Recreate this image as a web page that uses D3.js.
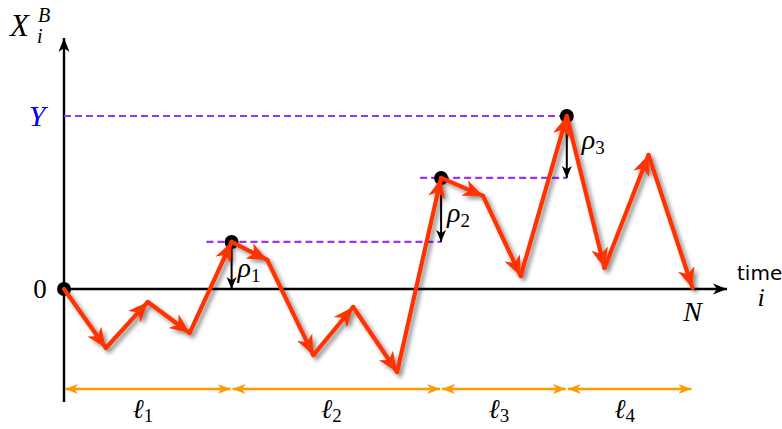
<!DOCTYPE html>
<html><head><meta charset="utf-8">
<script src="https://cdn.jsdelivr.net/npm/d3@7"></script>
<style>html,body{margin:0;padding:0;background:#fff;}svg{display:block;}
.serif{font-family:"Times New Roman","Liberation Serif","DejaVu Serif",Times,serif;}
</style>
</head><body>
<svg id="chart" width="782" height="429"></svg>
<script>
// ---- data ----
const times = [0, 1, 2, 3, 4, 4.85, 5.95, 6.9, 7.95, 9, 10, 10.9, 12, 12.9, 13.95, 15];
const values = [0, -3.41, -0.75, -2.54, 2.72, 1.68, -3.82, -1.04, -4.8, 6.42, 5.38, 0.75, 10, 1.21, 7.75, 0.06];
const recordIdx = [0, 4, 9, 12];          // record points (black dots)
const dashStarts = [3.4, 8.5, 0];         // start time of the dashed level lines for records 1..3
const rhoLabels = ["1", "2", "3"];
const ellLabels = ["1", "2", "3", "4"];
const segBounds = [0, 4, 9, 12, 15];      // boundaries of ℓ segments
const levelY = 10;                        // Y level
const N = 15;

// ---- scales ----
const svg = d3.select("#chart");
const x = d3.scaleLinear().domain([0, N]).range([64, 692.5]);
const y = d3.scaleLinear().domain([0, levelY]).range([289, 116]);

const defs = svg.append("defs");
const f = defs.append("filter").attr("id", "shadow").attr("x", "-20%").attr("y", "-20%").attr("width", "140%").attr("height", "140%");
f.append("feDropShadow").attr("dx", 3).attr("dy", 3).attr("stdDeviation", 2)
  .attr("flood-color", "#000").attr("flood-opacity", 0.45);

function marker(id, color, len, w) {
  defs.append("marker").attr("id", id).attr("markerUnits", "userSpaceOnUse")
    .attr("viewBox", `${-len} ${-w} ${len + 2} ${2 * w}`)
    .attr("markerWidth", len + 2).attr("markerHeight", 2 * w)
    .attr("refX", 0).attr("refY", 0).attr("orient", "auto-start-reverse")
    .append("path").attr("d", `M0,0 L${-len},${-w / 2} L${-len * 0.72},0 L${-len},${w / 2} Z`)
    .attr("fill", color);
}
marker("redHead", "#ff3300", 20, 17);
marker("blackHead", "#000", 12, 10);
marker("orangeHead", "#ff9900", 13, 10);
marker("axisHead", "#000", 14, 11);

// ---- axes ----
svg.append("line").attr("x1", x(0)).attr("x2", x(0)).attr("y1", 402).attr("y2", 38)
  .attr("stroke", "#000").attr("stroke-width", 2.4).attr("marker-end", "url(#axisHead)");
svg.append("line").attr("x1", x(0)).attr("x2", 727).attr("y1", y(0)).attr("y2", y(0))
  .attr("stroke", "#000").attr("stroke-width", 2.4).attr("marker-end", "url(#axisHead)");

// ---- dashed level lines ----
const recs = recordIdx.slice(1);
svg.selectAll(".lvl").data(recs).join("line").attr("class", "lvl")
  .attr("x1", (d, i) => x(dashStarts[i]))
  .attr("x2", (d, i) => x(i < recs.length - 1 ? times[recs[i + 1]] : times[d]))
  .attr("y1", d => y(values[d])).attr("y2", d => y(values[d]))
  .attr("stroke", "#9933ff").attr("stroke-width", 2.2).attr("stroke-dasharray", "7,4");
svg.append("line").attr("x1", x(0)).attr("x2", x(times[recordIdx[3]]))
  .attr("y1", y(levelY)).attr("y2", y(levelY))
  .attr("stroke", "#9933ff").attr("stroke-width", 2.2).attr("stroke-dasharray", "7,4");

// ---- black dots ----
svg.selectAll(".dot").data(recordIdx).join("circle").attr("class", "dot")
  .attr("cx", d => x(times[d])).attr("cy", d => y(values[d])).attr("r", 7).attr("fill", "#000");

// ---- rho arrows ----
recs.forEach((d, i) => {
  const prev = i === 0 ? 0 : values[recs[i - 1]];
  svg.append("line").attr("x1", x(times[d])).attr("x2", x(times[d]))
    .attr("y1", y(values[d]) + 6).attr("y2", y(prev))
    .attr("stroke", "#000").attr("stroke-width", 2).attr("marker-end", "url(#blackHead)");
  const t = svg.append("text").attr("class", "serif").attr("x", x(times[d]) + (i === 2 ? 15 : 6)).attr("y", (y(values[d]) + y(prev)) / 2 + (i === 2 ? 2 : 12))
    .attr("font-size", 28).attr("font-style", "italic").attr("fill", "#000");
  t.append("tspan").text("ρ");
  t.append("tspan").attr("font-size", 19).attr("font-style", "normal").attr("dy", 5).text(rhoLabels[i]);
});

// ---- red random walk ----
const g = svg.append("g").attr("filter", "url(#shadow)");
const segs = d3.range(times.length - 1);
g.selectAll(".seg").data(segs).join("line").attr("class", "seg")
  .attr("x1", i => x(times[i])).attr("y1", i => y(values[i]))
  .attr("x2", i => x(times[i + 1])).attr("y2", i => y(values[i + 1]))
  .attr("stroke", "#ff3300").attr("stroke-width", 4.2).attr("stroke-linecap", "round")
  .attr("marker-end", "url(#redHead)");

// ---- orange ℓ arrows ----
const ell = d3.range(segBounds.length - 1);
svg.selectAll(".ell").data(ell).join("line").attr("class", "ell")
  .attr("x1", i => x(segBounds[i]) + 1).attr("x2", i => x(segBounds[i + 1]) - 1)
  .attr("y1", 389).attr("y2", 389)
  .attr("stroke", "#ff9900").attr("stroke-width", 2.4)
  .attr("marker-start", "url(#orangeHead)").attr("marker-end", "url(#orangeHead)");
ell.forEach(i => {
  const t = svg.append("text").attr("class", "serif").attr("x", (x(segBounds[i]) + x(segBounds[i + 1])) / 2 - 5).attr("y", 418)
    .attr("text-anchor", "middle").attr("font-style", "italic").attr("font-size", 27).attr("fill", "#000");
  t.append("tspan").text("ℓ");
  t.append("tspan").attr("font-size", 19).attr("font-style", "normal").attr("dy", 4).text(ellLabels[i]);
});

// ---- text labels ----
svg.append("text").attr("class", "serif").attr("x", 10).attr("y", 36).attr("font-style", "italic").attr("font-size", 31).attr("fill", "#000").text("X");
svg.append("text").attr("class", "serif").attr("x", 38).attr("y", 22).attr("font-style", "italic").attr("font-size", 20).text("B");
svg.append("text").attr("class", "serif").attr("x", 37).attr("y", 43).attr("font-style", "italic").attr("font-size", 20).text("i");
svg.append("text").attr("class", "serif").attr("x", 37).attr("y", y(levelY) + 10).attr("text-anchor", "middle")
  .attr("font-style", "italic").attr("font-size", 30).attr("fill", "#0000ff").text("Y");
svg.append("text").attr("class", "serif").attr("x", 40).attr("y", y(0) + 9).attr("text-anchor", "middle")
  .attr("font-size", 27).attr("fill", "#000").text("0");
svg.append("text").attr("class", "serif").attr("x", x(N)).attr("y", 321).attr("text-anchor", "middle")
  .attr("font-style", "italic").attr("font-size", 28).attr("fill", "#000").text("N");
svg.append("text").attr("x", 737).attr("y", 280).attr("font-family", "DejaVu Sans").attr("font-size", 20).attr("fill", "#000").text("time");
svg.append("text").attr("class", "serif").attr("x", 761).attr("y", 306).attr("text-anchor", "middle")
  .attr("font-style", "italic").attr("font-size", 26).attr("fill", "#000").text("i");
</script>
</body></html>
